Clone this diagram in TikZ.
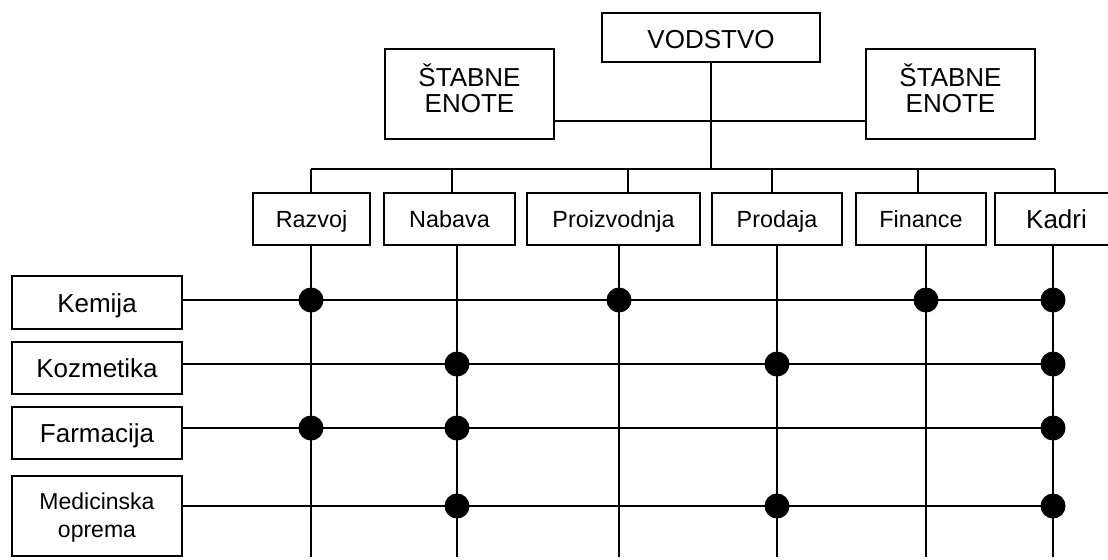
\documentclass[tikz,border=0pt]{standalone}
\usepackage{fontspec}
\setmainfont{Liberation Sans}
\usepackage{tikz}
\newcommand\bigfont{\fontsize{14.8}{15.2}\selectfont}
\newcommand\smallfont{\fontsize{13.3}{15}\selectfont}
\newcommand\medfont{\fontsize{13.1}{15.8}\selectfont}
\tikzset{
  orgLine/.style={draw=black, line width=1.1pt},
  orgBox/.style={orgLine, fill=white, inner sep=0pt, align=center, font=\bigfont},
  deptBox/.style={orgBox, minimum height=52*0.02cm, text depth=0pt},
  rowBox/.style={orgBox, minimum width=170*0.02cm},
  staffBox/.style={orgBox, minimum width=169*0.02cm, minimum height=90*0.02cm,
    text height=21.5pt, text depth=0pt},
  link/.style={fill=black}
}

\begin{document}
\begin{tikzpicture}[x=0.02cm, y=-0.02cm]
  \fill[white] (0,0) rectangle (1108,559);
  \useasboundingbox (0,0) rectangle (1108,559);

  \coordinate (bus) at (0,169);
  \coordinate (staff) at (0,121);
  \coordinate (bottom) at (0,557);

  % top of the chart
  \node[orgBox, minimum width=218*0.02cm, minimum height=49*0.02cm,
    text height=12.6pt, text depth=0pt] (vodstvo) at (711,37.2) {VODSTVO};
  \node[staffBox] (stabL) at (469.5,94) {ŠTABNE\\ENOTE};
  \node[staffBox] (stabR) at (950.5,94) {ŠTABNE\\ENOTE};

  \draw[orgLine] (stabL.east |- staff) -- (stabR.west |- staff);
  \draw[orgLine] (vodstvo.south) -- (vodstvo.south |- bus);

  % functions
  \foreach \name/\txt/\x/\w/\up/\down/\fnt/\th in {
      razvoj/Razvoj/311.5/117/311/311/\smallfont/9.5pt,
      nabava/Nabava/449.5/131/452/457/\smallfont/9.5pt,
      proizvodnja/Proizvodnja/613.5/173/628/619/\smallfont/9.5pt,
      prodaja/Prodaja/777/130/772/777/\smallfont/9.5pt,
      finance/Finance/921/130/918/926/\smallfont/9.5pt,
      kadri/Kadri/1056.5/123/1055/1053/\bigfont/10.6pt} {
    \node[deptBox, minimum width=\w*0.02cm, font=\fnt, text height=\th] (\name) at (\x,219) {\txt};
    \coordinate (\name-top) at (bus -| \up,0);
    \coordinate (\name-col) at (\name.south -| \down,0);
    \draw[orgLine] (\name-top) -- (\name.north -| \up,0);
    \draw[orgLine] (\name-col) -- (\name-col |- bottom);
  }
  \draw[orgLine] (razvoj-top) -- (kadri-top);

  % programmes
  \foreach \name/\txt/\y/\h/\ly/\fnt/\th in {
      kemija/Kemija/302.5/53/300/\bigfont/11.6pt,
      kozmetika/Kozmetika/368/52/364/\bigfont/10.6pt,
      farmacija/Farmacija/433/52/428/\bigfont/10.6pt,
      medicinska/{Medicinska\\oprema}/516/80/506/\medfont/24.6pt} {
    \node[rowBox, minimum height=\h*0.02cm, font=\fnt, text height=\th, text depth=0pt]
      (\name) at (97,\y) {\txt};
    \coordinate (\name-row) at (\name.east |- 0,\ly);
    \draw[orgLine] (\name-row) -- (\name-row -| kadri-col);
  }

  % who works on what
  \foreach \r/\c in {kemija/razvoj, kemija/proizvodnja, kemija/finance, kemija/kadri,
      kozmetika/nabava, kozmetika/prodaja, kozmetika/kadri,
      farmacija/razvoj, farmacija/nabava, farmacija/kadri,
      medicinska/nabava, medicinska/prodaja, medicinska/kadri}
    \fill[link] (\c-col |- \r-row) circle (0.25cm);
\end{tikzpicture}
\end{document}
